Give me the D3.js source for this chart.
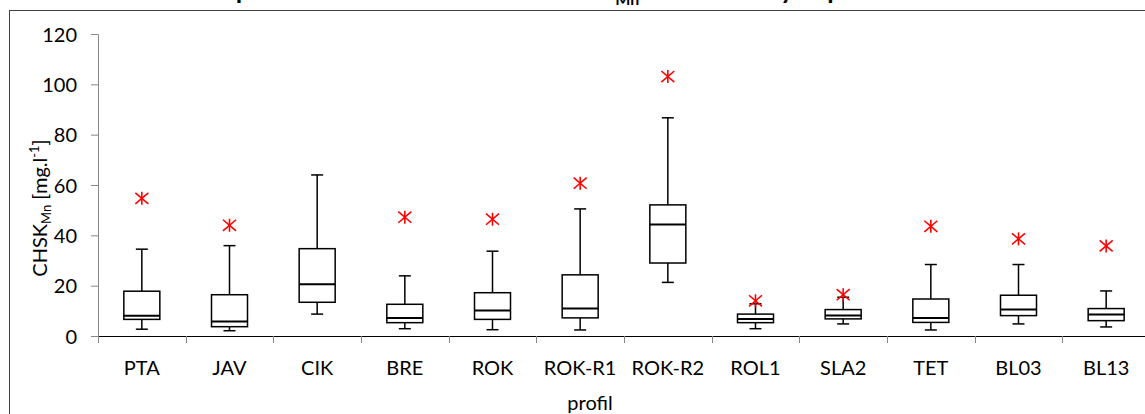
<!DOCTYPE html>
<html>
<head>
<meta charset="utf-8">
<script src="https://cdn.jsdelivr.net/npm/d3@7"></script>
<style>
  body { margin: 0; background: #fff; overflow: hidden; }
  text { font-family: Lato, "Open Sans", sans-serif; fill: #000; }
</style>
</head>
<body>
<script>
var width = 1145,
  height = 414;

// values
const profily = ["PTA", "JAV", "CIK", "BRE", "ROK", "ROK-R1", "ROK-R2", "ROL1", "SLA2", "TET", "BL03", "BL13"];
const minima = [2.7, 2.1, 8.7, 2.9, 2.5, 2.4, 21.3, 2.9, 4.8, 2.4, 4.8, 3.6];
const kvartil1 = [6.6, 3.7, 13.4, 5.3, 6.6, 7.2, 29.0, 5.3, 6.8, 5.4, 8.1, 6.1];
const medianHodnoty = [8.0, 5.8, 20.6, 7.2, 10.1, 10.9, 44.3, 6.8, 8.1, 7.2, 10.5, 8.5];
const kvartil3 = [17.8, 16.4, 34.7, 12.6, 17.2, 24.3, 52.1, 8.7, 10.5, 14.7, 16.2, 10.9];
const maxima = [34.5, 35.9, 64.0, 23.9, 33.7, 50.5, 86.7, 12.8, 15.4, 28.4, 28.4, 17.9];
const extremy = [54.7, 44.0, null, 47.2, 46.4, 60.7, 103.1, 14.0, 16.4, 43.6, 38.6, 35.8];
const yTicks = [0, 20, 40, 60, 80, 100, 120];

const data = profily.map((p, i) => ({
  profil: p,
  min: minima[i],
  q1: kvartil1[i],
  med: medianHodnoty[i],
  q3: kvartil3[i],
  max: maxima[i],
  ext: extremy[i],
}));

const svg = d3
  .select("body")
  .append("svg")
  .attr("width", width)
  .attr("height", height);

// outer chart frame (cropped on right / bottom)
svg.append("rect")
  .attr("x", 9.5)
  .attr("y", 10.5)
  .attr("width", 1200)
  .attr("height", 500)
  .attr("fill", "none")
  .attr("stroke", "#404040")
  .attr("stroke-width", 1);

// title, mostly above the visible area (cut off like in the source)
const title = svg.append("text")
  .attr("x", 560)
  .attr("y", -1)
  .attr("text-anchor", "middle")
  .style("font-weight", "bold")
  .style("font-size", "26px");
title.append("tspan").text("Boxplot koncentrací ukazatele CHSK");
title.append("tspan").attr("dy", 6).style("font-size", "16px").text("Mn");
title.append("tspan").attr("dy", -6).text(" ve sledovaných profilech");

const x = d3.scaleBand().domain(profily).range([98, 1150]);
const y = d3.scaleLinear().domain([0, 120]).range([336, 34]);

// y axis
const yAxis = svg.append("g")
  .attr("transform", "translate(98,0)")
  .call(d3.axisLeft(y).tickValues(yTicks).tickSize(7).tickSizeOuter(0).tickPadding(14));
yAxis.select(".domain").attr("stroke", "#868686");
yAxis.selectAll(".tick line").attr("stroke", "#868686");
yAxis.selectAll(".tick text")
  .attr("font-family", null)
  .style("font-size", "20px")
  .attr("dy", "0.36em");

// x axis: line + category boundary ticks
svg.append("line")
  .attr("x1", 98)
  .attr("x2", width)
  .attr("y1", y(0) + 0.5)
  .attr("y2", y(0) + 0.5)
  .attr("stroke", "#000");
svg.append("g")
  .selectAll("line")
  .data(profily.concat(["__end"]))
  .join("line")
  .attr("x1", (d, i) => Math.round(98 + i * x.step()) + 0.5)
  .attr("x2", (d, i) => Math.round(98 + i * x.step()) + 0.5)
  .attr("y1", y(0))
  .attr("y2", y(0) + 7)
  .attr("stroke", "#868686");
svg.append("g")
  .selectAll("text")
  .data(profily)
  .join("text")
  .attr("x", (d) => x(d) + x.bandwidth() / 2)
  .attr("y", 375)
  .attr("text-anchor", "middle")
  .style("font-size", "20px")
  .text((d) => d);

// axis titles
svg.append("text")
  .attr("x", 590)
  .attr("y", 410)
  .attr("text-anchor", "middle")
  .style("font-size", "20px")
  .text("profil");

const yTitle = svg.append("text")
  .attr("transform", "translate(47,208) rotate(-90)")
  .attr("text-anchor", "middle")
  .style("font-size", "20px");
yTitle.append("tspan").text("CHSK");
yTitle.append("tspan").attr("dy", 4).style("font-size", "13px").text("Mn");
yTitle.append("tspan").attr("dy", -4).text(" [mg.l");
yTitle.append("tspan").attr("dy", -8).style("font-size", "13px").text("-1");
yTitle.append("tspan").attr("dy", 8).text("]");

// boxes
const boxW = 36,
  capW = 12;
const g = svg.append("g")
  .selectAll("g")
  .data(data)
  .join("g")
  .attr("transform", (d) => `translate(${x(d.profil) + x.bandwidth() / 2},0)`);

g.append("line")
  .attr("x1", 0).attr("x2", 0)
  .attr("y1", (d) => y(d.q3)).attr("y2", (d) => y(d.max))
  .attr("stroke", "#000").attr("stroke-width", 1.5);
g.append("line")
  .attr("x1", 0).attr("x2", 0)
  .attr("y1", (d) => y(d.q1)).attr("y2", (d) => y(d.min))
  .attr("stroke", "#000").attr("stroke-width", 1.5);
g.append("line")
  .attr("x1", -capW / 2).attr("x2", capW / 2)
  .attr("y1", (d) => y(d.max)).attr("y2", (d) => y(d.max))
  .attr("stroke", "#000").attr("stroke-width", 1.5);
g.append("line")
  .attr("x1", -capW / 2).attr("x2", capW / 2)
  .attr("y1", (d) => y(d.min)).attr("y2", (d) => y(d.min))
  .attr("stroke", "#000").attr("stroke-width", 1.5);
g.append("rect")
  .attr("x", -boxW / 2)
  .attr("width", boxW)
  .attr("y", (d) => y(d.q3))
  .attr("height", (d) => y(d.q1) - y(d.q3))
  .attr("fill", "#fff")
  .attr("stroke", "#000")
  .attr("stroke-width", 1.5);
g.append("line")
  .attr("x1", -boxW / 2).attr("x2", boxW / 2)
  .attr("y1", (d) => y(d.med)).attr("y2", (d) => y(d.med))
  .attr("stroke", "#000").attr("stroke-width", 2);

// extreme values: red asterisk markers
const s = 6.5;
const hvezdy = g.filter((d) => d.ext != null)
  .append("g")
  .attr("transform", (d) => `translate(0,${y(d.ext)})`)
  .attr("stroke", "#ff0000")
  .attr("stroke-width", 1.6);
hvezdy.append("line").attr("x1", 0).attr("x2", 0).attr("y1", -s).attr("y2", s);
hvezdy.append("line").attr("x1", -s).attr("x2", s).attr("y1", -s * 0.85).attr("y2", s * 0.85);
hvezdy.append("line").attr("x1", -s).attr("x2", s).attr("y1", s * 0.85).attr("y2", -s * 0.85);
</script>
</body>
</html>
